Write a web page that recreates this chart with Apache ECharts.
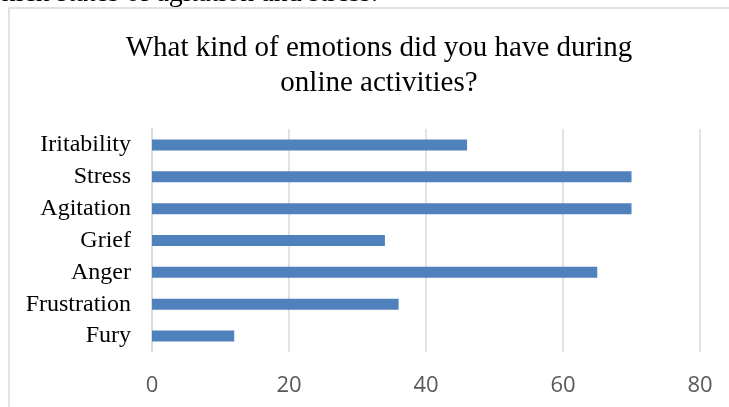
<!DOCTYPE html>
<html>
<head>
<meta charset="utf-8">
<script src="https://cdn.jsdelivr.net/npm/echarts@6/dist/echarts.min.js"></script>
<style>
html,body{margin:0;padding:0;background:#fff;overflow:hidden;}
#chart{width:729px;height:407px;}
</style>
</head>
<body>
<div id="chart"></div>
<script>
var categories = ['Fury', 'Frustration', 'Anger', 'Grief', 'Agitation', 'Stress', 'Iritability'];
var values = [12, 36, 65, 34, 70, 70, 46];
var xTicks = { min: 0, max: 80, interval: 20 };
var titleText = 'What kind of emotions did you have during\nonline activities?';
var aboveText = 'which states of agitation and stress.';

var chart = echarts.init(document.getElementById('chart'), null, { renderer: 'canvas' });
chart.setOption({
  animation: false,
  backgroundColor: '#ffffff',
  title: {
    text: titleText,
    left: 374,
    top: 26,
    textAlign: 'center',
    textStyle: {
      fontFamily: 'Liberation Serif',
      fontSize: 29,
      fontWeight: 'normal',
      color: '#000000',
      lineHeight: 35
    }
  },
  graphic: [
    {
      type: 'rect',
      shape: { x: 9, y: 8, width: 900, height: 600 },
      style: { fill: 'none', stroke: '#d9d9d9', lineWidth: 1.5 },
      silent: true
    },
    {
      type: 'text',
      x: 378,
      y: -6,
      style: {
        text: aboveText,
        align: 'right',
        verticalAlign: 'middle',
        font: '28px "Liberation Serif"',
        fill: '#000000'
      },
      silent: true
    }
  ],
  grid: { left: 152, right: 29, top: 129, bottom: 55, containLabel: false },
  xAxis: {
    type: 'value',
    min: xTicks.min,
    max: xTicks.max,
    interval: xTicks.interval,
    axisLine: { show: false },
    axisTick: { show: false },
    axisLabel: {
      fontFamily: 'Open Sans',
      fontSize: 22,
      color: '#595959',
      margin: 23
    },
    splitLine: { show: true, lineStyle: { color: '#d9d9d9', width: 1.5 } }
  },
  yAxis: {
    type: 'category',
    data: categories,
    axisLine: { show: true, lineStyle: { color: '#d9d9d9', width: 1.5 } },
    axisTick: { show: false },
    axisLabel: {
      fontFamily: 'Liberation Serif',
      fontSize: 24,
      color: '#000000',
      margin: 21
    }
  },
  series: [{
    type: 'bar',
    data: values,
    barWidth: 11,
    itemStyle: { color: '#4f81bd' },
    silent: true
  }]
});
</script>
</body>
</html>
